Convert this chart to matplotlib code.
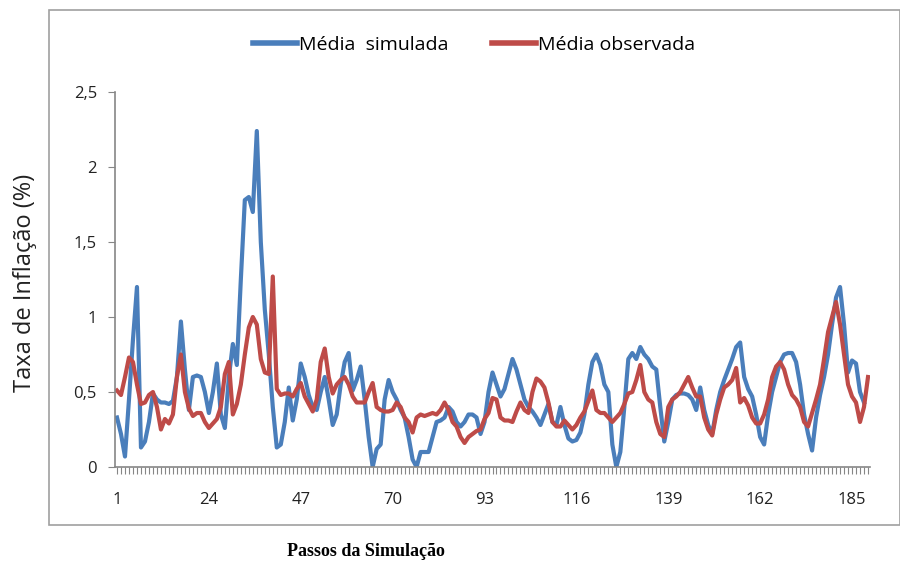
import numpy as np
import matplotlib
matplotlib.use("Agg")
import matplotlib.pyplot as plt
from matplotlib.patches import Rectangle

# Taxa de inflação média por passo da simulação
media_simulada = [
    0.33, 0.22, 0.07, 0.45, 0.85, 1.2, 0.13, 0.17, 0.3, 0.49,
    0.45, 0.43, 0.43, 0.42, 0.44, 0.6, 0.97, 0.65, 0.38, 0.6,
    0.61, 0.6, 0.5, 0.36, 0.5, 0.69, 0.35, 0.26, 0.6, 0.82,
    0.68, 1.25, 1.78, 1.8, 1.7, 2.24, 1.5, 1.05, 0.75, 0.4,
    0.13, 0.15, 0.3, 0.53, 0.31, 0.45, 0.69, 0.6, 0.48, 0.4,
    0.38, 0.5, 0.6, 0.45, 0.28, 0.35, 0.55, 0.7, 0.76, 0.51,
    0.58, 0.67, 0.45, 0.2, 0.0, 0.12, 0.15, 0.45, 0.58, 0.5,
    0.45, 0.38, 0.33, 0.2, 0.05, 0.0, 0.1, 0.1, 0.1, 0.2,
    0.3, 0.31, 0.33, 0.4, 0.37, 0.3, 0.27, 0.3, 0.35, 0.35,
    0.33, 0.22, 0.3, 0.5, 0.63, 0.55, 0.47, 0.52, 0.62, 0.72,
    0.65, 0.55, 0.45, 0.4, 0.37, 0.33, 0.28, 0.35, 0.42, 0.3,
    0.28, 0.4, 0.28, 0.19, 0.17, 0.18, 0.23, 0.35, 0.55, 0.7,
    0.75, 0.68, 0.55, 0.5, 0.15, 0.0, 0.1, 0.4, 0.72, 0.76,
    0.72, 0.8, 0.75, 0.72, 0.67, 0.65, 0.4, 0.17, 0.3, 0.45,
    0.48, 0.49, 0.49, 0.48, 0.45, 0.38, 0.53, 0.38, 0.28, 0.22,
    0.38, 0.5, 0.58, 0.65, 0.72, 0.8, 0.83, 0.6, 0.52, 0.47,
    0.35, 0.2, 0.15, 0.35, 0.5, 0.6, 0.7, 0.75, 0.76, 0.76,
    0.7, 0.55, 0.35, 0.22, 0.11, 0.33, 0.48, 0.6, 0.75, 0.95,
    1.13, 1.2, 0.95, 0.63, 0.71, 0.69, 0.5, 0.43,
]

media_observada = [
    0.51, 0.48, 0.6, 0.73, 0.7, 0.55, 0.42, 0.43, 0.48, 0.5,
    0.4, 0.25, 0.32, 0.29, 0.35, 0.6, 0.75, 0.5, 0.39, 0.34,
    0.36, 0.36, 0.3, 0.26, 0.29, 0.32, 0.4, 0.62, 0.7, 0.35,
    0.42, 0.55, 0.75, 0.93, 1.0, 0.95, 0.72, 0.63, 0.62, 1.27,
    0.52, 0.48, 0.49, 0.49, 0.47, 0.52, 0.56, 0.47, 0.42, 0.37,
    0.45, 0.7, 0.79, 0.6, 0.49, 0.55, 0.58, 0.6, 0.55, 0.47,
    0.43, 0.43, 0.43, 0.5, 0.56, 0.4, 0.38, 0.37, 0.37, 0.38,
    0.43, 0.4, 0.33, 0.3, 0.23, 0.33, 0.35, 0.34, 0.35, 0.36,
    0.35, 0.38, 0.43, 0.38, 0.3, 0.27, 0.2, 0.16, 0.2, 0.22,
    0.24, 0.25, 0.32, 0.36, 0.46, 0.45, 0.33, 0.31, 0.31, 0.3,
    0.37, 0.43, 0.38, 0.36, 0.5, 0.59, 0.57, 0.53, 0.43, 0.3,
    0.27, 0.27, 0.31, 0.28, 0.25, 0.28, 0.33, 0.37, 0.44, 0.51,
    0.38, 0.36, 0.36, 0.33, 0.3, 0.33, 0.36, 0.42, 0.49, 0.5,
    0.58, 0.68, 0.5, 0.45, 0.43, 0.3, 0.22, 0.2, 0.4, 0.45,
    0.47, 0.5, 0.55, 0.6, 0.53, 0.47, 0.47, 0.33, 0.25, 0.21,
    0.35, 0.45, 0.53, 0.55, 0.58, 0.66, 0.43, 0.46, 0.41, 0.33,
    0.29, 0.29, 0.35, 0.45, 0.6, 0.67, 0.7, 0.65, 0.55, 0.48,
    0.45, 0.4, 0.3, 0.27, 0.36, 0.45, 0.55, 0.72, 0.9, 1.0,
    1.1, 0.95, 0.75, 0.55, 0.47, 0.43, 0.3, 0.4, 0.6,
]

x_labels = [1, 24, 47, 70, 93, 116, 139, 162, 185]
y_ticks = [0, 0.5, 1, 1.5, 2, 2.5]
y_labels = ["0", "0,5", "1", "1,5", "2", "2,5"]

BLUE = "#4A7EBB"
RED = "#BE4B48"
GRID = "#868686"

fig = plt.figure(figsize=(9, 5.66), dpi=100)
ax = fig.add_axes([115 / 900, 99 / 566, 755 / 900, 375 / 566])

# moldura da área do gráfico
fig.patches.append(Rectangle((49 / 900, 41 / 566), 851 / 900, 515 / 566,
                             transform=fig.transFigure, fill=False,
                             edgecolor="#A0A0A0", linewidth=1.2))

xs = np.arange(1, len(media_simulada) + 1)
xo = np.arange(1, len(media_observada) + 1)
ax.plot(xs, media_simulada, color=BLUE, linewidth=3.0, label="Média  simulada",
        solid_joinstyle="round")
ax.plot(xo, media_observada, color=RED, linewidth=3.0, label="Média observada",
        solid_joinstyle="round")

n = len(media_observada)
ax.set_xlim(0.5, n + 0.5)
ax.set_ylim(0, 2.5)

for side in ["top", "right"]:
    ax.spines[side].set_visible(False)
for side in ["left", "bottom"]:
    ax.spines[side].set_color(GRID)
    ax.spines[side].set_linewidth(1.2)

ax.set_yticks(y_ticks)
ax.set_yticklabels(y_labels, fontsize=12, family="Open Sans", color="#222222")
ax.tick_params(axis="y", length=5, color=GRID, pad=8)

ax.set_xticks(x_labels)
ax.set_xticklabels([str(v) for v in x_labels], fontsize=12, family="Open Sans",
                   color="#222222")
ax.set_xticks(np.arange(1, n + 1), minor=True)
ax.tick_params(axis="x", which="both", length=5, color=GRID, width=0.8)
ax.tick_params(axis="x", which="major", pad=13)

fig.text(25 / 900, 0.5, "Taxa de Inflação (%)", rotation=90, fontsize=17,
         family="Open Sans", color="#222222", ha="center", va="center")
fig.text(366 / 900, 1 - 552 / 566, "Passos da Simulação", fontsize=13,
         family="Liberation Serif", fontweight="bold", ha="center", va="center")

leg = fig.legend(loc="center", bbox_to_anchor=(474 / 900, 1 - 45 / 566), ncol=2,
                 frameon=False, prop={"family": "Open Sans", "size": 14},
                 handlelength=2.3, handletextpad=0.1, columnspacing=2.2)
for line in leg.get_lines():
    line.set_linewidth(4.0)

fig.savefig("out.png", dpi=100, facecolor="white")
